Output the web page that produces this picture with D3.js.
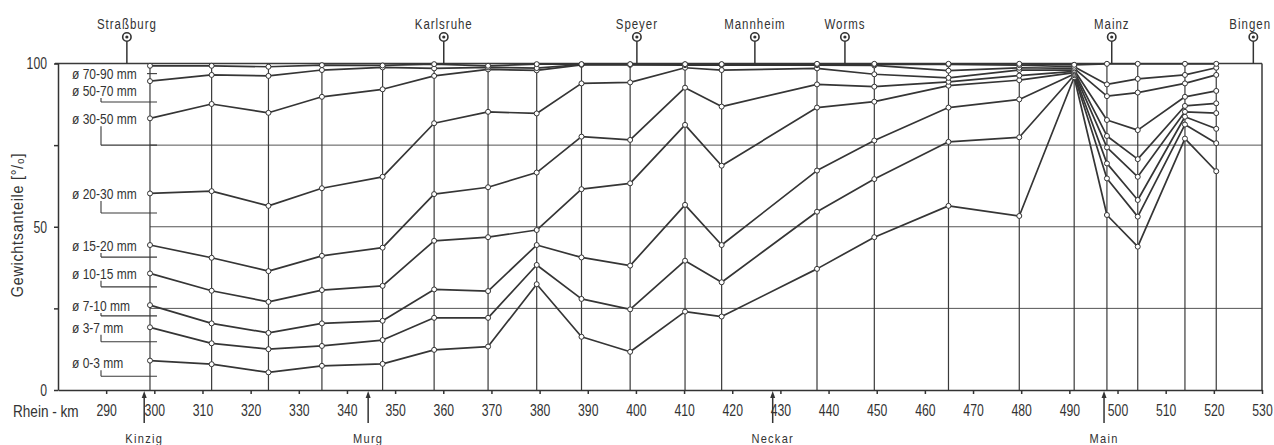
<!DOCTYPE html>
<html>
<head>
<meta charset="utf-8">
<title>Gewichtsanteile Rhein-km</title>
<script src="https://cdn.jsdelivr.net/npm/d3@7"></script>
<style>
    body { margin: 0; background: #fff; }
    svg text { font-family: "Liberation Sans", Arial, sans-serif; fill: #333; }
    .axis path, .axis line { stroke: #333; stroke-width: 1.5; }
    .grid { stroke: #555; stroke-width: 1; }
    .station { stroke: #3a3a3a; stroke-width: 1.2; }
    .curve { fill: none; stroke: #353535; stroke-width: 1.7; stroke-linejoin: round; }
    .pt { fill: #fff; stroke: #333; stroke-width: 1; }
</style>
</head>
<body>
<script>
    // sampling stations along the Rhine (km)
    let stationKm = [299.1, 311.9, 323.7, 334.8, 347.4, 358.1, 369.3, 379.4, 388.7, 398.8, 410.2,
        417.8, 437.6, 449.5, 464.9, 479.6, 491.0, 497.8, 504.2, 514.0, 520.5];

    // cumulative weight share [%] below grain size
    let below3 = [9.0, 7.9, 5.4, 7.4, 8.0, 12.3, 13.3, 32.4, 16.3, 11.7, 24.0, 22.5, 37.1, 46.8, 56.4, 53.3, 95.8, 53.6, 43.9, 77.0, 67.0];
    let below7 = [19.2, 14.3, 12.5, 13.5, 15.3, 22.1, 22.1, 38.3, 27.9, 24.7, 39.6, 33.0, 54.6, 64.6, 76.0, 77.4, 96.4, 64.8, 53.1, 81.3, 75.6];
    let below10 = [26.0, 20.4, 17.5, 20.4, 21.2, 30.8, 30.3, 44.4, 40.6, 38.1, 56.7, 44.4, 67.2, 76.4, 86.5, 89.0, 96.8, 69.4, 58.2, 83.7, 80.0];
    let below15 = [35.7, 30.4, 27.0, 30.6, 31.9, 45.7, 46.8, 49.0, 61.5, 63.3, 81.2, 68.7, 86.5, 88.3, 93.2, 94.9, 97.2, 74.3, 65.3, 85.2, 84.8];
    let below20 = [44.4, 40.5, 36.4, 41.1, 43.6, 60.0, 62.1, 66.6, 77.6, 76.6, 92.6, 86.8, 93.6, 92.9, 94.4, 96.3, 97.6, 77.8, 70.7, 87.0, 87.8];
    let below30 = [60.2, 60.9, 56.4, 61.8, 65.3, 81.7, 85.2, 84.7, 93.9, 94.2, 98.7, 98.0, 98.5, 96.7, 95.6, 98.0, 98.0, 82.7, 79.6, 89.8, 91.6];
    let below50 = [83.2, 87.6, 84.9, 89.8, 92.1, 96.2, 98.2, 97.9, 99.6, 99.6, 99.5, 99.5, 99.5, 99.4, 97.8, 98.7, 98.5, 90.0, 91.1, 93.9, 96.5];
    let below70 = [94.6, 96.5, 96.2, 98.0, 98.8, 98.5, 98.8, 98.6, 99.7, 99.7, 99.7, 99.7, 99.7, 99.7, 99.7, 99.5, 99.0, 93.6, 95.3, 96.5, 98.7];
    let below90 = [99.3, 99.3, 99.0, 99.5, 99.4, 99.8, 99.3, 99.8, 99.8, 99.8, 99.8, 99.8, 99.9, 99.9, 99.9, 99.9, 99.6, 99.9, 99.9, 99.9, 99.9];

    let sizeClasses = ["ø 0-3 mm", "ø 3-7 mm", "ø 7-10 mm", "ø 10-15 mm", "ø 15-20 mm",
        "ø 20-30 mm", "ø 30-50 mm", "ø 50-70 mm", "ø 70-90 mm"];

    let cities = ["Straßburg", "Karlsruhe", "Speyer", "Mannheim", "Worms", "Mainz", "Bingen"];
    let cityKm = [294.3, 360.1, 400.2, 424.7, 443.4, 498.8, 528.2];

    let rivers = ["Kinzig", "Murg", "Neckar", "Main"];
    let riverKm = [297.9, 344.4, 428.4, 497.2];

    let kmTicks = [290, 300, 310, 320, 330, 340, 350, 360, 370, 380, 390, 400, 410, 420,
        430, 440, 450, 460, 470, 480, 490, 500, 510, 520, 530];
    let pctTicks = [0, 25, 50, 75, 100];

    let curves = [below3, below7, below10, below15, below20, below30, below50, below70, below90];

    let width = 1274, height = 445;
    let x = d3.scaleLinear().domain([280, 530]).range([58, 1262]);
    let y = d3.scaleLinear().domain([0, 100]).range([390, 63.5]);

    // squeeze text horizontally, the drawing uses a narrow stencil lettering
    function condense(sel, sx) {
        sel.each(function () {
            let t = d3.select(this);
            let tx = +t.attr("x") || 0, ty = +t.attr("y") || 0;
            t.attr("x", 0).attr("y", 0)
                .attr("transform", "translate(" + tx + "," + ty + ") scale(" + sx + ",1)");
        });
    }

    let svg = d3.select("body").append("svg")
        .attr("width", width)
        .attr("height", height);

    // horizontal grid
    svg.selectAll("line.grid")
        .data([25, 50, 75])
        .enter().append("line")
        .attr("class", "grid")
        .attr("x1", x(stationKm[0])).attr("x2", x(530))
        .attr("y1", d => y(d)).attr("y2", d => y(d));

    // station verticals
    svg.selectAll("line.station")
        .data(stationKm)
        .enter().append("line")
        .attr("class", "station")
        .attr("x1", d => x(d)).attr("x2", d => x(d))
        .attr("y1", y(0)).attr("y2", y(100));

    // frame top + right
    svg.append("line").attr("class", "station").style("stroke-width", 1.5)
        .attr("x1", x(280) - 3).attr("x2", x(530)).attr("y1", y(100)).attr("y2", y(100));
    svg.append("line").attr("class", "station").style("stroke-width", 1.5)
        .attr("x1", x(530)).attr("x2", x(530)).attr("y1", y(100)).attr("y2", y(0));

    // axes
    let xAxis = svg.append("g")
        .attr("class", "axis")
        .attr("transform", "translate(0," + y(0) + ")")
        .call(d3.axisBottom(x).tickValues(kmTicks).tickSizeInner(4).tickSizeOuter(0).tickPadding(10));
    xAxis.selectAll("text").style("font-size", "17px");
    condense(xAxis.selectAll("text"), 0.72);

    let yAxis = svg.append("g")
        .attr("class", "axis")
        .attr("transform", "translate(" + x(280) + ",0)")
        .call(d3.axisLeft(y).tickValues(pctTicks).tickSizeInner(4).tickSizeOuter(0).tickPadding(7)
            .tickFormat(d => d % 50 === 0 ? d : ""));
    yAxis.selectAll("text").style("font-size", "17px");
    condense(yAxis.selectAll("text"), 0.72);

    let rheinKm = svg.append("text")
        .attr("x", 13).attr("y", 417)
        .style("font-size", "17px")
        .text("Rhein - km");
    condense(rheinKm, 0.8);

    svg.append("text")
        .attr("transform", "translate(23,225) rotate(-90) scale(0.9,1)")
        .attr("text-anchor", "middle")
        .style("font-size", "16px")
        .style("letter-spacing", "0.8px")
        .text("Gewichtsanteile [°/₀]");

    // curves
    let line = d3.line()
        .x((d, i) => x(stationKm[i]))
        .y(d => y(d));

    svg.selectAll("path.curve")
        .data(curves)
        .enter().append("path")
        .attr("class", "curve")
        .attr("d", d => line(d));

    curves.forEach(function (c) {
        svg.append("g").selectAll("circle")
            .data(c)
            .enter().append("circle")
            .attr("class", "pt")
            .attr("cx", (d, i) => x(stationKm[i]))
            .attr("cy", d => y(d))
            .attr("r", 2.5);
    });

    // size class labels with small brackets
    let bracketAt = [4.2, 14.8, 22.7, 31.6, 40.7, 54.2, 75, 88.2, 96.9];
    let labelLift = [13, 14, 10, 13, 11, 19, 26, 11, 0];
    sizeClasses.forEach(function (name, i) {
        let by = y(bracketAt[i]), ly = by - labelLift[i];
        let t = svg.append("text")
            .attr("x", 72).attr("y", ly + 5)
            .style("font-size", "15px")
            .text(name);
        condense(t, 0.8);
        let g = svg.append("g").attr("class", "station").style("stroke-width", 1.1);
        if (labelLift[i] > 0) {
            g.append("line").attr("x1", 101).attr("x2", 101).attr("y1", ly + 7).attr("y2", by);
            g.append("line").attr("x1", 101).attr("x2", x(stationKm[0]) + 7).attr("y1", by).attr("y2", by);
        } else {
            g.append("line").attr("x1", x(stationKm[0]) - 3).attr("x2", x(stationKm[0]) + 7).attr("y1", by).attr("y2", by);
        }
    });

    // cities on top
    let pins = svg.selectAll("g.city")
        .data(cities)
        .enter().append("g")
        .attr("class", "city")
        .attr("transform", (d, i) => "translate(" + x(cityKm[i]) + ",0)");
    pins.append("line")
        .attr("y1", 41).attr("y2", y(100))
        .style("stroke", "#333").style("stroke-width", 1.5);
    pins.append("circle")
        .attr("cy", 37).attr("r", 4.2)
        .style("fill", "#fff").style("stroke", "#333").style("stroke-width", 1.6);
    pins.append("circle")
        .attr("cy", 37).attr("r", 1.6)
        .style("fill", "#333");
    let cityText = pins.append("text")
        .attr("y", 29)
        .attr("text-anchor", "middle")
        .style("font-size", "14px")
        .style("letter-spacing", "1.2px")
        .text(d => d);
    condense(cityText, 0.82);
    // keep the last name inside the picture
    cityText.each(function (d, i) {
        let box = this.getBoundingClientRect();
        if (box.right > width - 3) {
            let t = d3.select(this);
            t.attr("transform", "translate(" + (width - 3 - box.right) + ",29) scale(0.82,1)");
        }
    });

    // tributaries below the axis
    let arrows = svg.selectAll("g.river")
        .data(rivers)
        .enter().append("g")
        .attr("class", "river")
        .attr("transform", (d, i) => "translate(" + x(riverKm[i]) + ",0)");
    arrows.append("line")
        .attr("y1", y(0) + 6).attr("y2", 423)
        .style("stroke", "#333").style("stroke-width", 1.5);
    arrows.append("path")
        .attr("d", "M0," + (y(0) + 1) + "L-2.5," + (y(0) + 8) + "L2.5," + (y(0) + 8) + "Z")
        .style("fill", "#333");
    let riverText = arrows.append("text")
        .attr("y", 443)
        .attr("text-anchor", "middle")
        .style("font-size", "13px")
        .style("letter-spacing", "1.5px")
        .text(d => d);
    condense(riverText, 0.85);
</script>
</body>
</html>
